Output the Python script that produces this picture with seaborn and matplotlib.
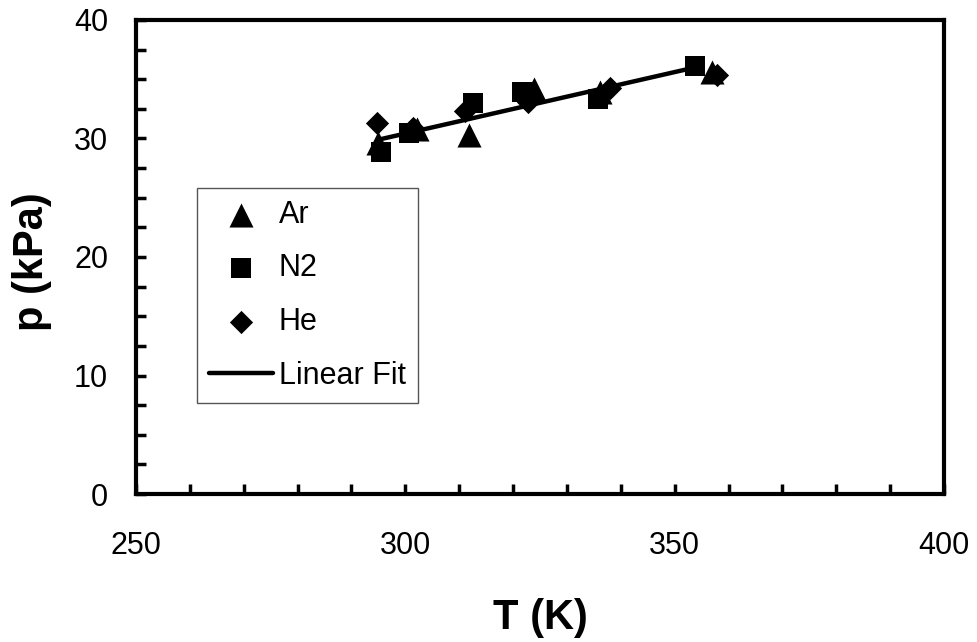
import matplotlib.pyplot as plt
import numpy as np
import pandas as pd
import seaborn as sns
from matplotlib.ticker import MultipleLocator

# pressure vs temperature readings for the three gases
ar_t = [294.9, 302.1, 311.9, 323.9, 336.1, 356.9]
ar_p = [29.6, 30.8, 30.3, 34.2, 33.9, 35.6]
n2_t = [295.5, 300.6, 312.6, 321.6, 335.8, 353.8]
n2_p = [28.9, 30.5, 33.0, 33.9, 33.3, 36.1]
he_t = [294.8, 301.5, 311.1, 322.8, 338.0, 357.8]
he_p = [31.3, 30.9, 32.3, 33.1, 34.3, 35.4]

# end points of the linear fit line
fit_t = [295.0, 353.8]
fit_p = [29.9, 36.0]

sns.set_style('white')
plt.rcParams['font.family'] = ['Liberation Sans', 'DejaVu Sans']
plt.rcParams['text.color'] = 'black'
plt.rcParams['axes.labelcolor'] = 'black'
plt.rcParams['xtick.color'] = 'black'
plt.rcParams['ytick.color'] = 'black'

fig = plt.figure(figsize=(9.78, 6.42), dpi=100)
ax = fig.add_axes([136 / 978, 1 - 494 / 642, 808 / 978, 474 / 642])

gases = [('Ar', ar_t, ar_p, '^', 300),
         ('N2', n2_t, n2_p, 's', 200),
         ('He', he_t, he_p, 'D', 140)]
for name, t, p, marker, size in gases:
    df = pd.DataFrame({'T': t, 'p': p})
    sns.scatterplot(data=df, x='T', y='p', marker=marker, s=size, color='black',
                    edgecolor='black', linewidth=0, label=name, ax=ax, zorder=3)

fit_df = pd.DataFrame({'T': fit_t, 'p': fit_p})
sns.lineplot(data=fit_df, x='T', y='p', color='black', linewidth=3.2,
             label='Linear Fit', ax=ax, zorder=4)

ax.set_xlim(250, 400)
ax.set_ylim(0, 40)
ax.xaxis.set_major_locator(MultipleLocator(50))
ax.xaxis.set_minor_locator(MultipleLocator(10))
ax.yaxis.set_major_locator(MultipleLocator(10))
ax.yaxis.set_minor_locator(MultipleLocator(2.5))

for side in ['left', 'right', 'top', 'bottom']:
    ax.spines[side].set_linewidth(3)
    ax.spines[side].set_color('black')

ax.tick_params(which='both', direction='in', length=7, width=2.5, color='black',
               labelcolor='black', top=False, right=False, bottom=True, left=True)
ax.tick_params(axis='x', which='major', labelsize=22, pad=27)
ax.tick_params(axis='y', which='major', labelsize=22, pad=20)

ax.set_xlabel('T (K)', fontsize=30, fontweight='bold', color='black')
ax.set_ylabel('p (kPa)', fontsize=30, fontweight='bold', color='black')
ax.xaxis.set_label_coords(0.5, -0.22)
ax.yaxis.set_label_coords(-0.104, 0.49)

leg = ax.legend(loc='upper left', bbox_to_anchor=(61 / 808, (494 - 188) / 474),
                borderaxespad=0, fontsize=22, handlelength=2.1, handletextpad=0.2,
                labelspacing=0.78, borderpad=0.38, fancybox=False, framealpha=1,
                edgecolor='#555555', labelcolor='black')
leg.get_frame().set_linewidth(1)

plt.savefig('out.png', dpi=100)
